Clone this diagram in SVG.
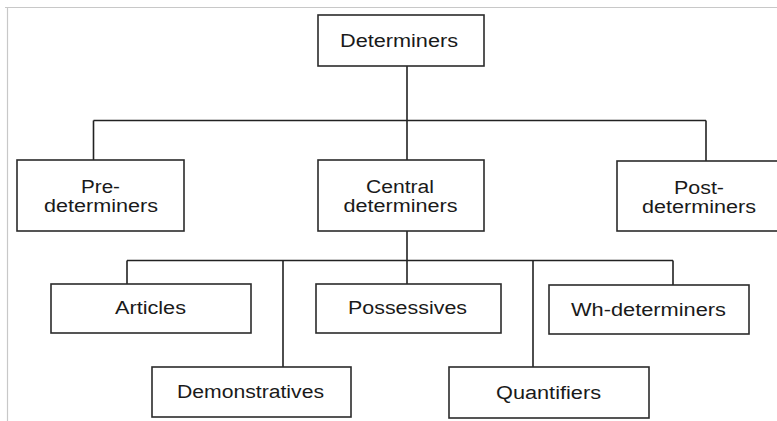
<svg xmlns="http://www.w3.org/2000/svg" width="777" height="421" viewBox="0 0 777 421">
  <style>
    .box { fill: #ffffff; stroke: #2b2b2b; stroke-width: 1.6; }
    .lbl { font-family: "Liberation Sans", Arial, sans-serif; font-size: 18px; fill: #1a1a1a; text-anchor: middle; }
    .wire { fill: none; stroke: #222222; stroke-width: 1.6; }
    .frame { fill: none; stroke: #c8c8c8; stroke-width: 1.2; }
  </style>
  <rect width="777" height="421" fill="#ffffff"/>
  <!-- page frame -->
  <path class="frame" d="M5 7.5H777M7.5 7V421"/>

  <g id="connectors">
    <path class="wire" d="M407 66V120.5M93.5 120.5H706M93.5 120.5V160M407 120.5V160M706 120.5V161"/>
    <path class="wire" d="M407 231V260.5M127 260.5H673M127 260.5V284M283 260.5V367M407 260.5V284M533 260.5V367M673 260.5V285"/>
  </g>

  <g id="determiners">
    <rect class="box" x="318" y="15" width="166" height="51"/>
    <text class="lbl" x="399" y="47" textLength="118" lengthAdjust="spacingAndGlyphs">Determiners</text>
  </g>

  <g id="pre-determiners">
    <rect class="box" x="17" y="160" width="167" height="71"/>
    <text class="lbl" x="100.5" y="192.5" textLength="39" lengthAdjust="spacingAndGlyphs">Pre-</text>
    <text class="lbl" x="101" y="212" textLength="114" lengthAdjust="spacingAndGlyphs">determiners</text>
  </g>

  <g id="central-determiners">
    <rect class="box" x="318" y="160" width="166" height="71"/>
    <text class="lbl" x="400" y="192.5" textLength="68" lengthAdjust="spacingAndGlyphs">Central</text>
    <text class="lbl" x="400.5" y="212" textLength="114" lengthAdjust="spacingAndGlyphs">determiners</text>
  </g>

  <g id="post-determiners">
    <rect class="box" x="617" y="161" width="170" height="70"/>
    <text class="lbl" x="699" y="194" textLength="50" lengthAdjust="spacingAndGlyphs">Post-</text>
    <text class="lbl" x="699" y="212.5" textLength="114" lengthAdjust="spacingAndGlyphs">determiners</text>
  </g>

  <g id="articles">
    <rect class="box" x="51" y="284" width="200" height="49"/>
    <text class="lbl" x="150.5" y="314" textLength="71" lengthAdjust="spacingAndGlyphs">Articles</text>
  </g>

  <g id="possessives">
    <rect class="box" x="316" y="284" width="185" height="49"/>
    <text class="lbl" x="407.5" y="314" textLength="119" lengthAdjust="spacingAndGlyphs">Possessives</text>
  </g>

  <g id="wh-determiners">
    <rect class="box" x="549" y="285" width="200" height="49"/>
    <text class="lbl" x="648.5" y="316" textLength="155" lengthAdjust="spacingAndGlyphs">Wh-determiners</text>
  </g>

  <g id="demonstratives">
    <rect class="box" x="152" y="367" width="199" height="50"/>
    <text class="lbl" x="250.5" y="398" textLength="147" lengthAdjust="spacingAndGlyphs">Demonstratives</text>
  </g>

  <g id="quantifiers">
    <rect class="box" x="449" y="367" width="200" height="51"/>
    <text class="lbl" x="548.5" y="399" textLength="105" lengthAdjust="spacingAndGlyphs">Quantifiers</text>
  </g>
</svg>
